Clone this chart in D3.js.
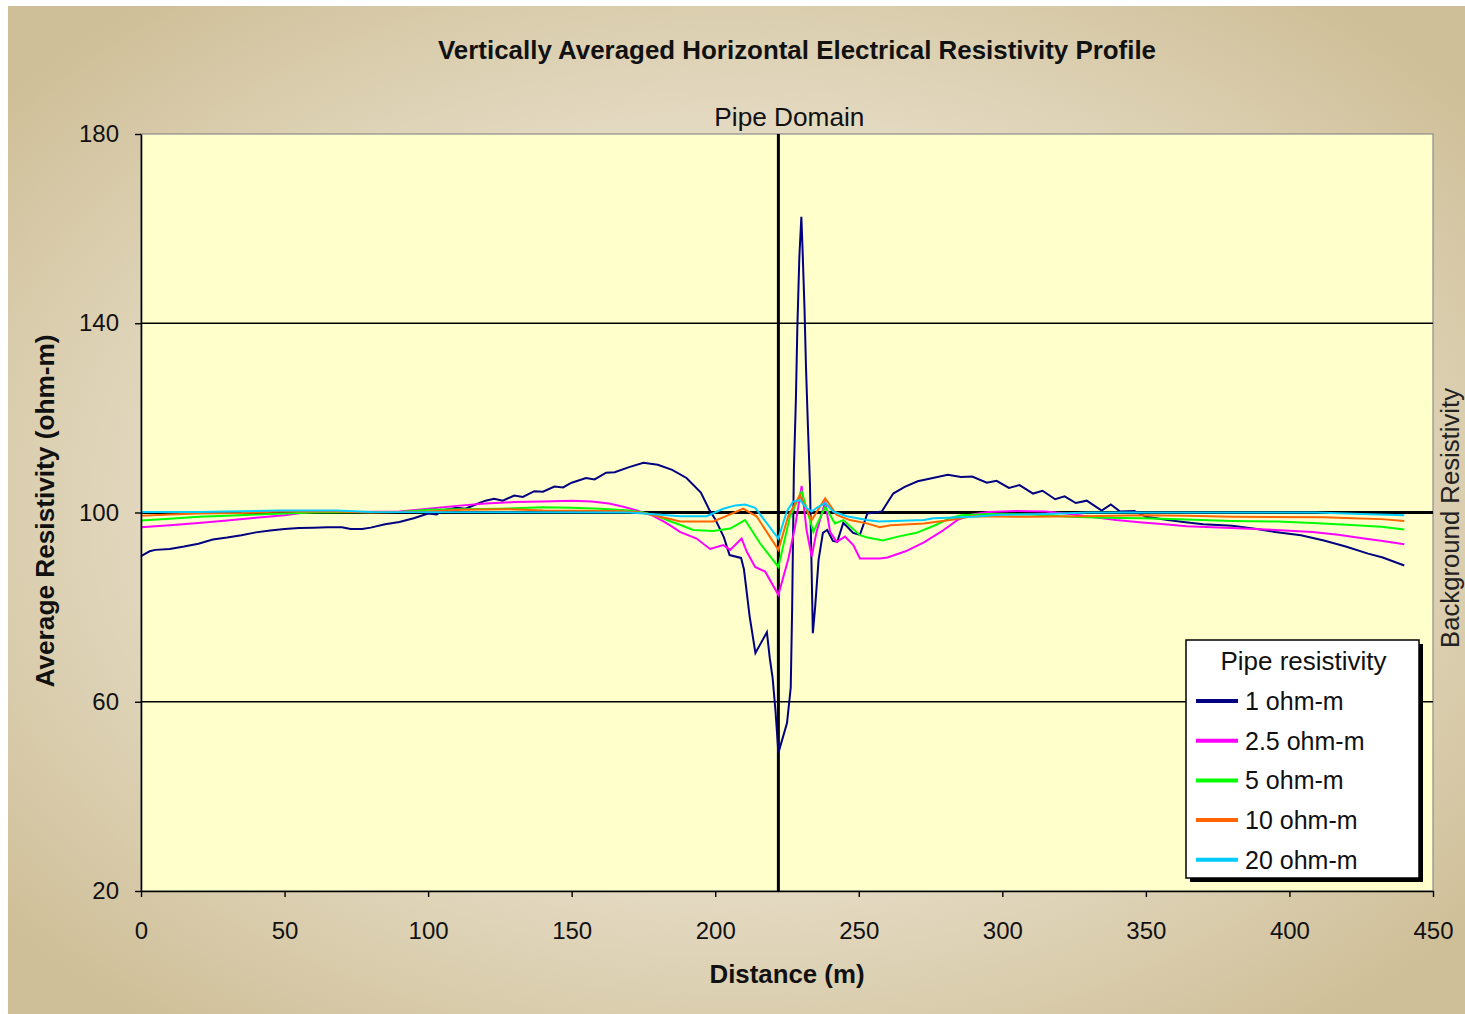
<!DOCTYPE html>
<html>
<head>
<meta charset="utf-8">
<script src="https://cdn.jsdelivr.net/npm/d3@7/dist/d3.min.js"></script>
<style>
  html, body { margin: 0; padding: 0; background: #ffffff; }
  svg { display: block; font-family: "Liberation Sans", Arial, sans-serif; }
</style>
</head>
<body>
<svg id="chart" width="1465" height="1014"></svg>
<script>
// Distance (m), average resistivity (ohm-m) pairs for each pipe resistivity
const pipe1 = [[0,90.8],[3,91.8],[5,92.1],[10,92.3],[15,92.8],[20,93.4],[25,94.3],[30,94.7],[35,95.2],[40,95.8],[45,96.2],[50,96.5],[55,96.7],[60,96.8],[65,96.9],[70,96.9],[73,96.5],[77,96.5],[80,96.8],[85,97.5],[90,98.0],[95,98.8],[100,99.8],[103,99.6],[105,100.5],[110,101.0],[113,100.8],[117,101.8],[120,102.5],[123,102.9],[126,102.5],[130,103.6],[133,103.3],[137,104.5],[140,104.4],[144,105.5],[147,105.3],[150,106.3],[155,107.3],[158,107.0],[162,108.4],[165,108.5],[170,109.6],[175,110.5],[180,110.1],[185,109.0],[190,107.3],[195,104.2],[198,100.5],[200,98.6],[203,94.8],[205,91.0],[209,90.4],[210,88.0],[212,78.0],[214,70.3],[216,72.5],[218,74.7],[219,69.2],[220,65.0],[221,58.0],[222,49.2],[225,55.5],[226.3,63],[226.8,80],[227.4,109],[228.1,124],[228.6,139],[229.3,154],[230,162.5],[230.4,156],[231.1,143],[231.6,131],[232.3,118],[233,106],[234,74.5],[234.8,80],[236,90],[237.5,95.7],[239,96.3],[241,94],[242.5,93.8],[244.6,97.8],[246,97],[248,95.7],[250.4,95.3],[253,99.8],[258,100.2],[262,104],[266,105.4],[270.5,106.6],[275,107.2],[281,108],[285.6,107.5],[289.5,107.6],[294.6,106.3],[298,106.7],[302.3,105.2],[306,105.8],[310.7,104],[314,104.6],[318.4,102.8],[321.7,103.4],[325.6,102],[329.4,102.5],[334.6,100.4],[337.8,101.7],[341,100.2],[346,100.3],[350,99.1],[357.7,98.4],[363,98],[370,97.5],[380,97.2],[388.7,96.5],[395,95.9],[404,95.2],[412,94.1],[419.6,92.8],[427.4,91.3],[432.5,90.5],[440,88.8]];

const pipe2_5 = [[0,96.9],[10,97.3],[20,97.8],[30,98.3],[40,98.9],[50,99.4],[57,100],[65,100.2],[75,100.1],[90,100.2],[100,100.8],[110,101.4],[120,101.9],[130,102.2],[140,102.3],[150,102.5],[157,102.3],[163,101.9],[168,101.2],[173,100.4],[178,99.4],[182,98.1],[185,97],[187.7,95.9],[193.5,94.5],[198.2,92.3],[202.8,93.1],[205.2,92.1],[209.2,94.5],[211,91.7],[213.9,88.5],[217.4,87.5],[222,82.6],[225.5,90.3],[227.8,97],[230.1,105.6],[231.8,96.3],[233.6,90.7],[235.3,95.9],[238.3,102.3],[240,95.9],[242.3,93.8],[245.2,94.9],[248.1,93.1],[250.4,90.3],[257.4,90.3],[260,90.5],[266.3,91.8],[272.7,93.7],[279.1,96.1],[284.3,98.4],[289.5,99.6],[295,100.1],[305,100.3],[315,100.2],[322,99.8],[329.4,99.2],[339.6,98.4],[348.7,97.9],[356.5,97.5],[364.2,97.1],[379.7,96.7],[395.2,96.3],[408,95.9],[417,95.3],[424.8,94.6],[432.5,94],[440,93.3]];

const pipe5 = [[0,98.3],[10,98.7],[20,99.1],[30,99.3],[40,99.6],[50,99.8],[60,100],[90,100.1],[100,100.6],[110,100.7],[125,100.8],[140,101.1],[150,101],[160,100.8],[170,100.4],[175,100],[180,99.2],[185,98],[187.7,97.4],[192.3,96.3],[199.3,96.1],[205.2,96.6],[210.4,98.4],[215.6,93.5],[222,88.5],[226,99.1],[230.1,104.4],[234.2,95.9],[238.3,101.2],[241.7,97.7],[244.6,98.4],[250.4,95.2],[253,94.7],[258.4,94.1],[263.6,94.9],[270.1,95.7],[276.6,97.3],[281.8,98.8],[285.6,99.4],[295,99.7],[310,99.6],[324,99.1],[335,98.9],[349,98.8],[364,98.5],[380,98.2],[396,98.1],[408,97.8],[420,97.4],[432,97.0],[440,96.4]];

const pipe10 = [[0,99.3],[10,99.6],[20,99.8],[35,99.9],[48,100.2],[68,100.2],[80,100],[100,100.2],[112,100.6],[128,100.7],[140,100.4],[165,100.3],[172,100.1],[176,99.8],[180,99.2],[185,98.5],[187.7,98.1],[199.3,98.1],[204,99.3],[209.7,100.8],[214.4,99.2],[222,92.1],[225.4,99.2],[229.5,103.7],[233.6,98.4],[238.3,103],[242.3,99.5],[246.9,98.4],[252.8,97.7],[257.3,96.9],[261.1,97.3],[272.7,97.7],[276.6,98],[281.8,98.4],[285.6,98.8],[289.5,99.2],[308.8,99.1],[329,99.2],[349,99.4],[364,99.3],[380,99.1],[412,99],[422,98.8],[432,98.6],[440,98.2]];

const pipe20 = [[0,100.1],[20,100.1],[48,100.4],[68,100.4],[80,100.1],[170,100],[180,99.6],[187.7,99.2],[197,99.2],[202.8,100.8],[207,101.5],[210.4,101.7],[213.9,101],[222,94.5],[224.9,100.2],[227.1,102.3],[229.5,102.6],[231.9,100.9],[233.6,100.2],[235.9,101.2],[238.3,102],[241.1,100.2],[245.8,99.2],[252.8,98.4],[257,98.1],[272.7,98.4],[276,98.8],[290,99.1],[299,99.5],[315,99.7],[330,100],[409,100],[425,99.7],[440,99.4]];

const seriesNames = ["1 ohm-m", "2.5 ohm-m", "5 ohm-m", "10 ohm-m", "20 ohm-m"];
const seriesColors = ["#000080", "#ff00ff", "#00ff00", "#ff6600", "#00ccff"];
const seriesData = [pipe1, pipe2_5, pipe5, pipe10, pipe20];

const xTicks = [0, 50, 100, 150, 200, 250, 300, 350, 400, 450];
const yTicks = [20, 60, 100, 140, 180];
const gridValues = [60, 140];
const backgroundResistivity = 100;
const pipeDomainX = 222;

const svg = d3.select("#chart");
const W = 1465, H = 1014;
const plot = { left: 141, right: 1433, top: 134, bottom: 891 };

// Chart area background
const defs = svg.append("defs");
const grad = defs.append("radialGradient").attr("id", "bgGrad")
  .attr("cx", "50%").attr("cy", "50%").attr("r", "65%");
grad.append("stop").attr("offset", "0%").attr("stop-color", "#ebe4d0");
grad.append("stop").attr("offset", "60%").attr("stop-color", "#e3d9c0");
grad.append("stop").attr("offset", "100%").attr("stop-color", "#cfbf98");

svg.append("rect").attr("x", 8).attr("y", 6).attr("width", W - 8).attr("height", H - 6)
  .attr("fill", "url(#bgGrad)");

const x = d3.scaleLinear().domain([0, 450]).range([plot.left, plot.right]);
const y = d3.scaleLinear().domain([20, 180]).range([plot.bottom, plot.top]);

// Plot area
svg.append("rect")
  .attr("x", plot.left).attr("y", plot.top)
  .attr("width", plot.right - plot.left).attr("height", plot.bottom - plot.top)
  .attr("fill", "#ffffcc").attr("stroke", "#8c8c8c").attr("stroke-width", 1.2);

// Gridlines
svg.append("g").selectAll("line").data(gridValues).join("line")
  .attr("x1", plot.left).attr("x2", plot.right)
  .attr("y1", d => y(d)).attr("y2", d => y(d))
  .attr("stroke", "#000").attr("stroke-width", 1.6);

// Background resistivity reference line
svg.append("line")
  .attr("x1", plot.left).attr("x2", plot.right)
  .attr("y1", y(backgroundResistivity)).attr("y2", y(backgroundResistivity))
  .attr("stroke", "#000").attr("stroke-width", 3);

// Pipe domain marker
svg.append("line")
  .attr("x1", x(pipeDomainX)).attr("x2", x(pipeDomainX))
  .attr("y1", plot.top).attr("y2", plot.bottom)
  .attr("stroke", "#000").attr("stroke-width", 3);

// Series lines
const line = d3.line().x(d => x(d[0])).y(d => y(d[1]));
svg.append("g").selectAll("path").data(seriesData).join("path")
  .attr("d", d => line(d))
  .attr("fill", "none")
  .attr("stroke", (d, i) => seriesColors[i])
  .attr("stroke-width", 2)
  .attr("stroke-linejoin", "miter");

// Axes
const yAxis = svg.append("g").attr("transform", `translate(${plot.left},0)`)
  .call(d3.axisLeft(y).tickValues(yTicks).tickSize(6).tickPadding(16).tickSizeOuter(0));
const xAxis = svg.append("g").attr("transform", `translate(0,${plot.bottom})`)
  .call(d3.axisBottom(x).tickValues(xTicks).tickSize(6).tickPadding(25).tickSizeOuter(0));
[xAxis, yAxis].forEach(ax => {
  ax.select(".domain").attr("stroke", "#000").attr("stroke-width", 1.6);
  ax.selectAll(".tick line").attr("stroke", "#000").attr("stroke-width", 1.4);
  ax.selectAll(".tick text").attr("font-size", 24).attr("fill", "#111")
    .attr("font-family", "Liberation Sans, Arial, sans-serif");
});

// Titles
svg.append("text").attr("x", 797).attr("y", 59).attr("text-anchor", "middle")
  .attr("font-size", 25).attr("font-weight", "bold").attr("fill", "#111")
  .attr("textLength", 718).attr("lengthAdjust", "spacingAndGlyphs")
  .text("Vertically Averaged Horizontal Electrical Resistivity Profile");

svg.append("text").attr("x", 787).attr("y", 983).attr("text-anchor", "middle")
  .attr("font-size", 25).attr("font-weight", "bold").attr("fill", "#111")
  .attr("textLength", 155).attr("lengthAdjust", "spacingAndGlyphs")
  .text("Distance (m)");

svg.append("text").attr("transform", "translate(54,511) rotate(-90)")
  .attr("text-anchor", "middle")
  .attr("font-size", 25).attr("font-weight", "bold").attr("fill", "#111")
  .attr("textLength", 353).attr("lengthAdjust", "spacingAndGlyphs")
  .text("Average Resistivity (ohm-m)");

svg.append("text").attr("x", x(pipeDomainX) + 11).attr("y", 126).attr("text-anchor", "middle")
  .attr("font-size", 25).attr("fill", "#111")
  .attr("textLength", 150).attr("lengthAdjust", "spacingAndGlyphs")
  .text("Pipe Domain");

svg.append("text").attr("transform", `translate(1459,518) rotate(-90)`)
  .attr("text-anchor", "middle")
  .attr("font-size", 25).attr("fill", "#222")
  .attr("textLength", 260).attr("lengthAdjust", "spacingAndGlyphs")
  .text("Background Resistivity");

// Legend
const lg = { x: 1186, y: 640, w: 233, h: 238 };
svg.append("rect").attr("x", lg.x + 4).attr("y", lg.y + 4).attr("width", lg.w).attr("height", lg.h)
  .attr("fill", "#000");
svg.append("rect").attr("x", lg.x).attr("y", lg.y).attr("width", lg.w).attr("height", lg.h)
  .attr("fill", "#fff").attr("stroke", "#000").attr("stroke-width", 1.5);
svg.append("text").attr("x", lg.x + lg.w / 2 + 1).attr("y", lg.y + 30).attr("text-anchor", "middle")
  .attr("font-size", 25).attr("fill", "#111")
  .attr("textLength", 166).attr("lengthAdjust", "spacingAndGlyphs")
  .text("Pipe resistivity");
const items = svg.append("g").selectAll("g").data(seriesNames).join("g")
  .attr("transform", (d, i) => `translate(${lg.x},${lg.y + 61 + i * 39.7})`);
items.append("line").attr("x1", 10).attr("x2", 52).attr("y1", 0).attr("y2", 0)
  .attr("stroke", (d, i) => seriesColors[i]).attr("stroke-width", 4);
items.append("text").attr("x", 59).attr("y", 9).attr("font-size", 25).attr("fill", "#111")
  .text(d => d);
</script>
</body>
</html>
